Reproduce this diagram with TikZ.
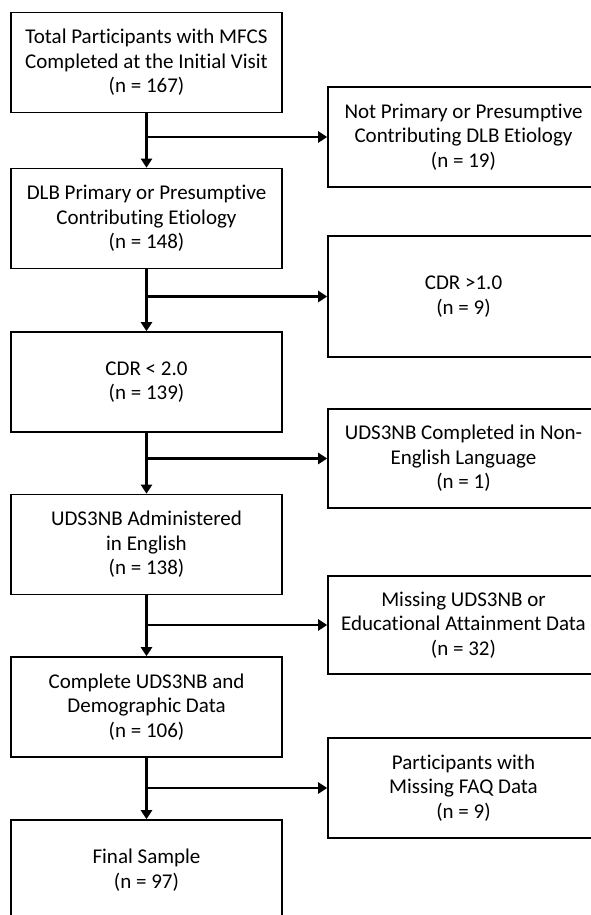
\documentclass[tikz,border=0pt]{standalone}
\usepackage{fontspec}
\setmainfont{Carlito}[Ligatures=NoCommon]
\usetikzlibrary{arrows.meta}
\begin{document}
\begin{tikzpicture}[x=1pt,y=-1pt]
            \tikzset{every node/.style={inner sep=0pt, align=center, font=\fontsize{21}{24.5}\selectfont},
                stepbox/.style={draw=black, line width=1.6pt, minimum width=271pt, minimum height=100pt},
                flow/.style={line width=2.6pt, -{Triangle[width=11pt,length=9pt]}}}
            \useasboundingbox (0,0) rectangle (591,915);
            \clip (0,0) rectangle (591,915);
                % main column
                \node [stepbox] (total) at (146.5,62.5) {Total Participants with MFCS\\Completed at the Initial Visit\\(n = 167)};
                \node [stepbox] (dlb) at (146.5,218.5) {DLB Primary or Presumptive\\Contributing Etiology\\(n = 148)};
                \node [stepbox] (cdr) at (146.5,382) {CDR < 2.0\\(n = 139)};
                \node [stepbox] (english) at (146.5,544.5) {UDS3NB Administered\\in English\\(n = 138)};
                \node [stepbox] (complete) at (146.5,707) {Complete UDS3NB and\\Demographic Data\\(n = 106)};
                \node [stepbox] (final) at (146.5,870) {Final Sample\\(n = 97)};
                % excluded
                \node [stepbox] (notdlb) at (463.5,137) {Not Primary or Presumptive\\Contributing DLB Etiology\\(n = 19)};
                \node [stepbox, minimum height=121pt] (cdrhigh) at (463.5,296.5) {CDR >1.0\\(n = 9)};
                \node [stepbox, minimum height=99pt] (nonenglish) at (463.5,458.5) {UDS3NB Completed in Non-\\English Language\\(n = 1)};
                \node [stepbox, minimum height=98pt] (missing) at (463.5,625) {Missing UDS3NB or\\Educational Attainment Data\\(n = 32)};
                \node [stepbox] (faq) at (463.5,788) {Participants with\\Missing FAQ Data\\(n = 9)};
                % connectors
                \draw [flow] (total.south) -- (dlb.north);
                \draw [flow] (dlb.south) -- (cdr.north);
                \draw [flow] (cdr.south) -- (english.north);
                \draw [flow] (english.south) -- (complete.north);
                \draw [flow] (complete.south) -- (final.north);
                \draw [flow] (total.south |- notdlb.west) -- (notdlb.west);
                \draw [flow] (dlb.south |- cdrhigh.west) -- (cdrhigh.west);
                \draw [flow] (cdr.south |- nonenglish.west) -- (nonenglish.west);
                \draw [flow] (english.south |- missing.west) -- (missing.west);
                \draw [flow] (complete.south |- faq.west) -- (faq.west);
            \end{tikzpicture}
\end{document}
